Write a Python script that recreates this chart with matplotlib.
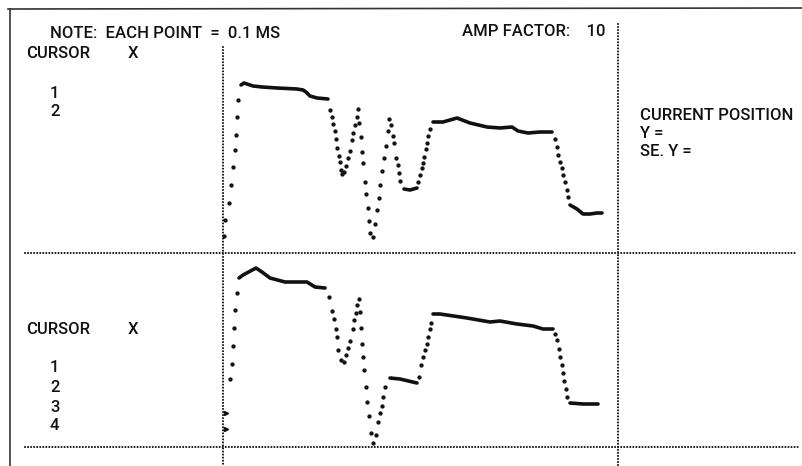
import matplotlib.pyplot as plt

W, H = 802, 466
FONT = ["Roboto", "DejaVu Sans"]
INK = "#111111"

# --- top trace: time (ms from left cursor), amplitude (display units) ---
top_rise_t = [0.1, 0.2, 0.6, 0.8, 1.0, 1.2, 1.3, 1.4, 1.5]
top_rise_a = [1.6, 3.2, 4.9, 6.7, 8.5, 10.2, 11.7, 13.5, 15.2]
top_plat1_t = [1.8, 2.1, 3.0, 3.9, 5.4, 7.4, 8.0, 8.3, 8.7, 9.4, 10.5]
top_plat1_a = [16.7, 16.9, 16.6, 16.5, 16.4, 16.3, 16.2, 16.0, 15.6, 15.4, 15.3]
top_osc_t = [10.7, 10.9, 11.0, 11.2, 11.3, 11.4, 11.6, 11.7, 11.8, 11.9, 12.1, 12.3,
             12.5, 12.7, 12.9, 13.0, 13.2, 13.4, 13.5, 13.6, 13.8, 13.9, 14.0, 14.2,
             14.3, 14.5, 14.6, 14.7, 15.0, 15.2, 15.4, 15.6, 15.7, 15.9, 16.1, 16.3,
             16.5, 16.6, 16.8, 17.0, 17.1, 17.3, 17.5, 17.6, 17.7]
top_osc_a = [14.2, 13.5, 12.8, 12.1, 11.3, 10.4, 9.6, 9.0, 8.2, 7.8, 8.0, 8.6,
             9.4, 10.1, 11.2, 11.9, 12.7, 13.5, 14.3, 12.9, 11.5, 10.0, 8.9, 7.0,
             5.8, 4.4, 3.1, 1.9, 1.5, 2.8, 4.2, 5.4, 6.7, 8.1, 9.4, 10.6,
             12.1, 13.3, 12.7, 11.6, 10.9, 9.4, 8.7, 7.9, 7.1]
top_dip_t = [18.1, 18.7, 19.4]
top_dip_a = [6.3, 6.2, 6.4]
top_rise2_t = [19.5, 19.7, 19.9, 20.0, 20.1, 20.3, 20.4, 20.5, 20.7]
top_rise2_a = [7.0, 7.7, 8.4, 8.9, 9.5, 10.3, 10.9, 11.6, 12.3]
top_plat2_t = [21.0, 22.0, 23.4, 24.7, 26.4, 27.7, 28.9, 29.5, 30.5, 31.7, 32.9]
top_plat2_a = [13.0, 13.0, 13.4, 12.9, 12.5, 12.4, 12.5, 12.1, 11.9, 12.0, 12.0]
top_fall_t = [33.2, 33.4, 33.5, 33.7, 33.9, 34.0, 34.2, 34.4, 34.5]
top_fall_a = [11.3, 10.5, 9.7, 9.0, 8.4, 7.7, 7.0, 6.2, 5.5]
top_base_t = [34.7, 35.4, 36.0, 36.7, 37.4, 37.9]
top_base_a = [4.7, 4.3, 3.8, 3.8, 3.9, 3.9]

# --- bottom trace ---
bot_mark_t = [0.3, 0.3]
bot_mark_a = [3.3, 1.7]
bot_rise_t = [0.7, 0.9, 1.0, 1.1, 1.2, 1.4]
bot_rise_a = [6.7, 8.2, 10.0, 11.8, 13.6, 15.3]
bot_plat1_t = [1.6, 2.0, 3.3, 3.9, 4.7, 6.2, 8.4, 9.2, 10.2]
bot_plat1_a = [16.8, 17.1, 17.8, 17.4, 16.8, 16.4, 16.4, 15.9, 15.8]
bot_osc_t = [10.6, 10.9, 11.1, 11.3, 11.4, 11.5, 11.8, 12.1, 12.3, 12.5, 12.7, 13.0,
             13.1, 13.3, 13.4, 13.6, 13.7, 13.8, 13.9, 14.0, 14.1, 14.3, 14.4, 14.6,
             14.8, 15.0, 15.3, 15.5, 15.7, 15.9, 16.0, 16.2]
bot_osc_a = [14.9, 13.5, 12.7, 11.7, 10.9, 9.6, 8.6, 8.4, 9.1, 9.8, 10.5, 11.7,
             12.6, 13.3, 14.1, 14.7, 13.4, 11.8, 10.2, 8.9, 7.6, 5.9, 4.4, 3.0,
             1.3, 0.3, 1.1, 2.4, 3.3, 4.0, 4.9, 5.9]
bot_dip_t = [16.7, 17.7, 19.4]
bot_dip_a = [6.8, 6.7, 6.3]
bot_rise2_t = [19.6, 19.8, 20.0, 20.2, 20.4, 20.5, 20.7, 20.8]
bot_rise2_a = [6.9, 8.1, 8.9, 9.6, 10.2, 10.9, 11.7, 12.3]
bot_plat2_t = [21.0, 21.7, 24.4, 26.7, 27.7, 29.4, 31.0, 32.0, 33.0]
bot_plat2_a = [13.2, 13.2, 12.8, 12.4, 12.5, 12.2, 12.0, 11.7, 11.7]
bot_fall_t = [33.2, 33.4, 33.6, 33.7, 33.9, 34.0, 34.1, 34.3, 34.4]
bot_fall_a = [11.2, 10.6, 9.7, 8.9, 8.1, 7.3, 6.5, 5.7, 4.9]
bot_base_t = [34.7, 36.0, 37.5]
bot_base_a = [4.3, 4.2, 4.2]

top_segments = [("dot", top_rise_t, top_rise_a), ("line", top_plat1_t, top_plat1_a),
                ("dot", top_osc_t, top_osc_a), ("line", top_dip_t, top_dip_a),
                ("dot", top_rise2_t, top_rise2_a), ("line", top_plat2_t, top_plat2_a),
                ("dot", top_fall_t, top_fall_a), ("line", top_base_t, top_base_a)]
bot_segments = [("mark", bot_mark_t, bot_mark_a),
                ("dot", bot_rise_t, bot_rise_a), ("line", bot_plat1_t, bot_plat1_a),
                ("dot", bot_osc_t, bot_osc_a), ("line", bot_dip_t, bot_dip_a),
                ("dot", bot_rise2_t, bot_rise2_a), ("line", bot_plat2_t, bot_plat2_a),
                ("dot", bot_fall_t, bot_fall_a), ("line", bot_base_t, bot_base_a)]

fig = plt.figure(figsize=(W / 100, H / 100), dpi=100)
fig.patch.set_facecolor("white")

# background axes in screen pixels: frame, dotted cursors, text
bg = fig.add_axes([0, 0, 1, 1])
bg.set_xlim(0, W)
bg.set_ylim(H, 0)
bg.axis("off")

bg.plot([8, W], [9, 8], color="#333333", lw=1.2)
bg.plot([10, 10], [9, H], color="#333333", lw=1.2)

dots = dict(color=INK, lw=1.5, ls=(0, (0.01, 1.45)), dash_capstyle="round")
bg.plot([223, 223], [47, H], **dots)
bg.plot([618, 618], [24, H], **dots)
bg.plot([25, 795], [252.5, 252.5], **dots)
bg.plot([25, 798], [446.5, 446.5], **dots)

txt = dict(family=FONT, fontsize=12, weight="medium", color=INK, va="center", ha="left")
bg.text(50, 33, "NOTE:  EACH POINT  =  0.1 MS", **txt)
bg.text(462, 31, "AMP FACTOR:    10", **txt)
for y0 in (54, 329):
    bg.text(26, y0, "CURSOR", **txt)
    bg.text(128, y0, "X", **txt)
for i, y0 in enumerate([93, 112]):
    bg.text(50, y0, str(i + 1), **txt)
for i, y0 in enumerate([368, 387.5, 407, 426]):
    bg.text(50, y0, str(i + 1), **txt)
bg.text(640, 115, "CURRENT POSITION", **txt)
bg.text(640, 133, "Y =", **txt)
bg.text(640, 152, "SE. Y =", **txt)


def draw_trace(ax, segments):
    for kind, t, a in segments:
        if kind == "line":
            ax.plot(t, a, color=INK, lw=2.6, solid_capstyle="round", clip_on=False)
        elif kind == "dot":
            ax.plot(t, a, ls="none", marker="o", ms=2.1, color=INK, clip_on=False)
        else:
            ax.plot(t, a, ls="none", marker=">", ms=3, color=INK, clip_on=False)


# scope panels in data units: x in ms, y in amplitude
top = fig.add_axes([223 / W, 1 - 252 / H, 395 / W, 228 / H])
top.set_xlim(0, 39.5)
top.set_ylim(0, 22.8)
top.axis("off")
draw_trace(top, top_segments)

bot = fig.add_axes([223 / W, 1 - 446 / H, 395 / W, 194 / H])
bot.set_xlim(0, 39.5)
bot.set_ylim(0, 19.4)
bot.axis("off")
draw_trace(bot, bot_segments)

fig.savefig("out.png", dpi=100, facecolor="white")
